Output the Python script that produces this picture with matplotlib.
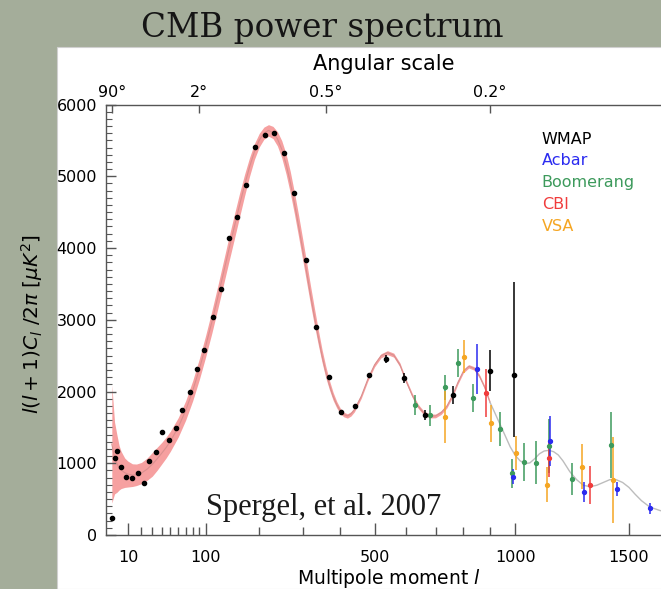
import numpy as np
import matplotlib
matplotlib.use("Agg")
import matplotlib.pyplot as plt
from matplotlib.patches import Rectangle
from matplotlib.ticker import MultipleLocator, NullLocator

# best-fit model curve (pink part with its band, then the grey tail)
theory_l = [2, 3, 4, 5, 6, 8, 10, 13, 16, 20, 25, 30, 35, 40, 45, 50, 60, 70, 80, 90,
            100, 110, 120, 130, 140, 150, 160, 170, 180, 190, 200, 210, 220, 230, 240,
            250, 260, 270, 280, 290, 300, 310, 320, 330, 340, 350, 360, 370, 380, 390,
            400, 410, 420, 430, 440, 460, 480, 500, 520, 540, 560, 580, 600, 620, 640,
            660, 680, 700, 720, 740, 760, 780, 800, 820, 840, 860, 880, 900]
theory_v = [1268, 1073, 995, 937, 907, 868, 849, 834, 839, 863, 917, 985, 1063, 1141, 1220,
            1307, 1502, 1737, 2010, 2312, 2634, 2966, 3307, 3649, 3980, 4293, 4595, 4878,
            5132, 5346, 5502, 5600, 5639, 5610, 5522, 5376, 5171, 4917, 4624, 4312, 3990,
            3668, 3346, 3044, 2761, 2498, 2273, 2088, 1932, 1815, 1727, 1678, 1659, 1688,
            1746, 1932, 2176, 2371, 2498, 2541, 2507, 2371, 2146, 1951, 1795, 1698, 1659,
            1659, 1707, 1795, 1941, 2127, 2283, 2351, 2322, 2215, 2059, 1854]
band_hw = [823, 500, 400, 310, 260, 205, 180, 158, 150, 148, 155, 165, 160, 150, 145, 140,
           135, 135, 140, 145, 150, 155, 160, 165, 170, 170, 165, 150, 130, 110, 95, 85, 80,
           85, 100, 120, 140, 150, 150, 150, 145, 140, 130, 120, 105, 90, 80, 65, 55, 45,
           38, 32, 30, 30, 30, 28, 28, 28, 28, 28, 28, 28, 28, 28, 28, 27, 27, 26, 26, 25,
           25, 25, 24, 24, 24, 23, 23, 22]
tail_l = [900, 920, 940, 960, 980, 1000, 1020, 1040, 1060, 1080, 1100, 1120, 1140, 1160,
          1180, 1200, 1230, 1260, 1290, 1320, 1350, 1380, 1410, 1440, 1470, 1500, 1530,
          1560, 1600, 1650, 1700, 1750, 1800]
tail_v = [1854, 1698, 1541, 1385, 1229, 1112, 1034, 995, 1005, 1063, 1132, 1171, 1180, 1161,
          1115, 1034, 883, 771, 693, 673, 693, 732, 771, 771, 732, 663, 566, 478, 390, 341,
          312, 290, 270]

# WMAP binned points
wmap_l = [2, 3, 4, 6, 9, 13, 17, 22, 27, 34, 40, 48, 57, 65, 76, 87, 98, 112, 125, 141,
          156, 173, 192, 212, 232, 255, 279, 308, 335, 368, 402, 441, 484, 537, 593, 665,
          761, 899, 996]
wmap_v = [233, 1077, 1175, 944, 813, 790, 868, 729, 1035, 1161, 1440, 1324, 1496, 1742,
          1997, 2309, 2579, 3043, 3424, 4136, 4436, 4874, 5412, 5575, 5607, 5320, 4762,
          3833, 2903, 2206, 1718, 1798, 2230, 2453, 2192, 1672, 1951, 2290, 2230]
wmap_elo = [0] * 33 + [56, 70, 70, 121, 286, 864]
wmap_ehi = [0] * 33 + [56, 70, 70, 121, 286, 1296]

# other experiments
acbar_l = [850, 993, 1143, 1294, 1444, 1599]
acbar_v = [2309, 813, 1315, 595, 641, 372]
acbar_e = [350, 107, 350, 137, 93, 78]
boom_l = [631, 681, 734, 782, 834, 938, 987, 1037, 1086, 1140, 1240, 1417]
boom_v = [1812, 1672, 2059, 2393, 1905, 1473, 860, 1022, 1008, 1240, 781, 1255]
boom_e = [137, 146, 176, 195, 195, 237, 205, 263, 302, 376, 224, 463]
cbi_l = [886, 1140, 1318]
cbi_v = [1975, 1068, 697]
cbi_e = [332, 254, 259]
vsa_l = [734, 804, 904, 1005, 1130, 1284, 1424]
vsa_v = [1649, 2485, 1557, 1139, 697, 952, 767]
vsa_e = [361, 234, 254, 234, 244, 312, 595]

legend_names = ['WMAP', 'Acbar', 'Boomerang', 'CBI', 'VSA']
legend_colors = ['black', '#2b2bf0', '#3d9a5c', '#f03c3c', '#f5a623']

x_major = [10, 100, 500, 1000, 1500]
x_minor = [20, 30, 40, 50, 60, 70, 80, 90, 200, 300, 400, 600, 700, 800, 900]
angle_deg = [90, 2, 0.5, 0.2]
angle_labels = ['90°', '2°', '0.5°', '0.2°']

POW = 0.6


def fwd(x):
    x = np.asarray(x, dtype=float)
    return np.sign(x) * np.abs(x) ** POW


def inv(y):
    y = np.asarray(y, dtype=float)
    return np.sign(y) * np.abs(y) ** (1 / POW)


W, H = 661, 589


def fx(px):
    return px / W


def fy(py):
    return 1 - py / H


fig = plt.figure(figsize=(W / 100, H / 100), dpi=100)
fig.patch.set_facecolor('#a4ad9a')
# white slide panel behind the plot
fig.patches.append(Rectangle((fx(57), 0), 1, fy(47), transform=fig.transFigure,
                             fc='white', ec='#d0d0d0', lw=0.8, zorder=-5))

ax = fig.add_axes([fx(105.5), 54 / H, 584.4 / W, 430.5 / H])
ax.set_xscale('function', functions=(fwd, inv))
ax.set_xlim(0.37, 1800)
ax.set_ylim(0, 6000)

tv = np.array(theory_v)
hw = np.array(band_hw)
ax.fill_between(theory_l, tv - hw, tv + hw, color='#f6a0a0', lw=0, zorder=1)
ax.plot(theory_l, theory_v, color='#d9908f', lw=0.8, zorder=2)
ax.plot(tail_l, tail_v, color='#bdbdbd', lw=1.0, zorder=2)

for l, v, e, c in [(boom_l, boom_v, boom_e, legend_colors[2]),
                   (vsa_l, vsa_v, vsa_e, legend_colors[4]),
                   (cbi_l, cbi_v, cbi_e, legend_colors[3]),
                   (acbar_l, acbar_v, acbar_e, legend_colors[1])]:
    ax.errorbar(l, v, yerr=e, fmt='o', ms=2.8, color=c, ecolor=c,
                elinewidth=1.1, capsize=0, zorder=3)

ax.errorbar(wmap_l, wmap_v, yerr=[wmap_elo, wmap_ehi], fmt='o', ms=3.0,
            color='black', elinewidth=1.1, capsize=0, zorder=4)

ax.set_xticks(x_major, labels=[str(v) for v in x_major])
ax.set_xticks(x_minor, minor=True)
ax.yaxis.set_major_locator(MultipleLocator(1000))
ax.yaxis.set_minor_locator(MultipleLocator(100))
ax.tick_params(which='both', direction='in', top=False, right=False, color='#555555')
ax.tick_params(axis='x', which='major', length=9, width=1, pad=11, labelsize=11.5)
ax.tick_params(axis='x', which='minor', length=6, width=1)
ax.tick_params(axis='y', which='major', length=7, width=1, pad=6, labelsize=11.5)
ax.tick_params(axis='y', which='minor', length=4, width=0.8)
for s in ax.spines.values():
    s.set_color('#555555')
    s.set_linewidth(1.0)

# angular scale on top
ax2 = ax.twiny()
ax2.set_xscale('function', functions=(fwd, inv))
ax2.set_xlim(ax.get_xlim())
ax2.set_xticks([180 / a for a in angle_deg], labels=angle_labels)
ax2.xaxis.set_minor_locator(NullLocator())
ax2.tick_params(direction='in', length=6, width=1, pad=3, labelsize=11.5, color='#555555')
for s in ax2.spines.values():
    s.set_visible(False)

fig.text(fx(384), fy(64), 'Angular scale', ha='center', va='center', fontsize=15)
fig.text(fx(389), fy(578), 'Multipole moment $l$', ha='center', va='center', fontsize=13.5)
fig.text(fx(32), fy(324), r'$l(l+1)C_l\ /2\pi\ [\mu K^2]$', rotation=90,
         ha='center', va='center', fontsize=14.5)

fig.text(fx(322), fy(37), 'CMB power spectrum', ha='center', va='baseline',
         fontsize=23.5, family='DejaVu Serif', color='#151515')
fig.text(fx(206), fy(514.5), 'Spergel, et al. 2007', ha='left', va='baseline',
         fontsize=22, family='Liberation Serif', color='#1a1a1a')

for i, (name, c) in enumerate(zip(legend_names, legend_colors)):
    fig.text(fx(541.7), fy(139 + 21.9 * i), name, color=c, fontsize=11.5,
             ha='left', va='center')

fig.savefig('out.png', dpi=100)
